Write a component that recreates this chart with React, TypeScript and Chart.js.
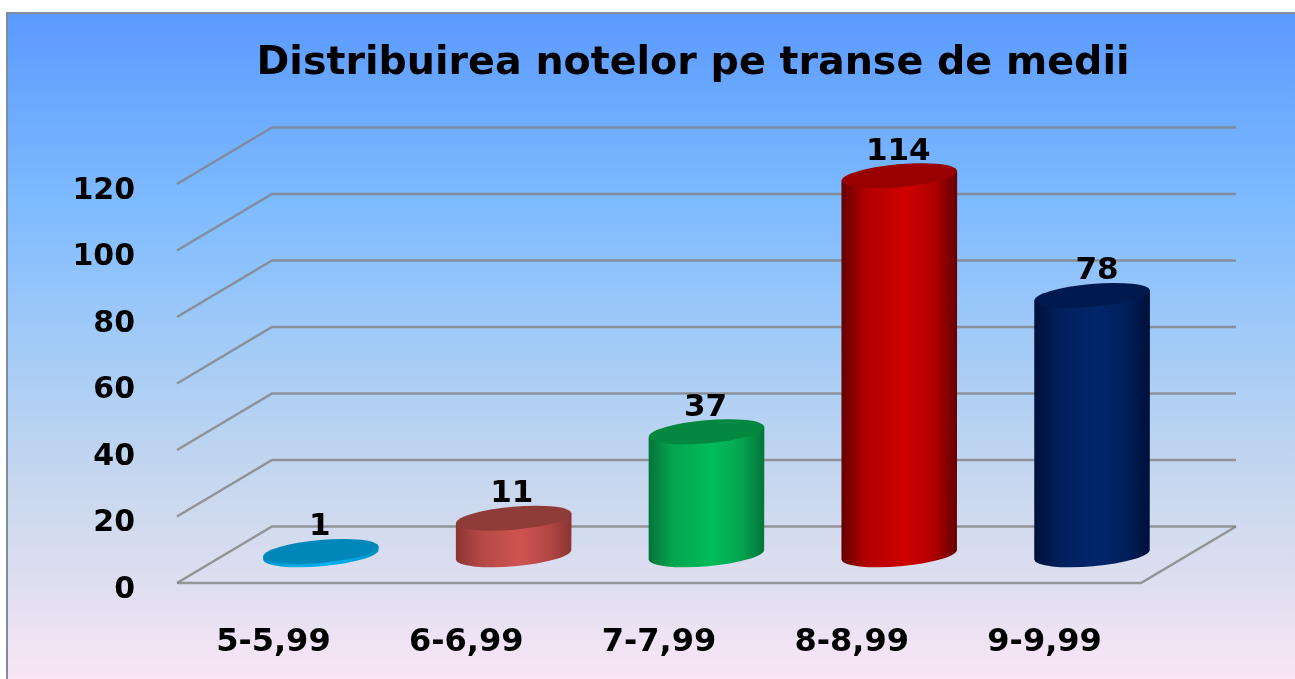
import React, { useEffect, useRef } from "react";
import { Chart, registerables } from "chart.js";

Chart.register(...registerables);

const TITLE = "Distribuirea notelor pe transe de medii";
const categories = ["5-5,99", "6-6,99", "7-7,99", "8-8,99", "9-9,99"];
const values = [1, 11, 37, 114, 78];
const yTicks = [0, 20, 40, 60, 80, 100, 120];

const sideLight = ["#00b4f0", "#cf5451", "#00bd5a", "#cf0000", "#02266b"];
const sideMid = ["#00a5dd", "#b24744", "#04a44f", "#b00000", "#001f5a"];
const sideEdge = ["#0090c4", "#8a3532", "#04743a", "#650000", "#001038"];
const capColors = ["#0188ba", "#8f3b38", "#04873f", "#990000", "#00194f"];
const labelShift = [-1, -2, -1, -1, 5];

const DEPTH_X = 95;
const DEPTH_Y = 56.5;
const TILT = (-5 * Math.PI) / 180;
const CAP_RY = 11.5;

const FONT = "'DejaVu Sans', sans-serif";

const panelPlugin = {
  id: "panel",
  beforeDraw(chart: any) {
    const { ctx, width, height } = chart;
    ctx.save();
    ctx.fillStyle = "#ffffff";
    ctx.fillRect(0, 0, width, height);
    const g = ctx.createLinearGradient(0, 12, 0, height);
    g.addColorStop(0, "#5a9aff");
    g.addColorStop(0.3, "#80bcff");
    g.addColorStop(0.5, "#a3cbf7");
    g.addColorStop(0.72, "#c9d8ee");
    g.addColorStop(0.87, "#e1dff0");
    g.addColorStop(1, "#f9e6f7");
    ctx.fillStyle = g;
    ctx.fillRect(6, 12, width - 6, height - 12);
    ctx.strokeStyle = "#808b9b";
    ctx.lineWidth = 2;
    ctx.beginPath();
    ctx.moveTo(7, height);
    ctx.lineTo(7, 13);
    ctx.lineTo(width, 13);
    ctx.stroke();
    ctx.restore();
  },
};

const wallsPlugin = {
  id: "walls",
  beforeDatasetsDraw(chart: any) {
    const { ctx, chartArea, scales } = chart;
    const { left, right } = chartArea;
    ctx.save();
    ctx.lineWidth = 2.5;
    ctx.strokeStyle = "rgba(130,130,130,0.8)";
    yTicks.forEach((t) => {
      const y = scales.y.getPixelForValue(t);
      ctx.beginPath();
      ctx.moveTo(left, y);
      ctx.lineTo(left + DEPTH_X, y - DEPTH_Y);
      ctx.lineTo(right + DEPTH_X, y - DEPTH_Y);
      ctx.stroke();
    });
    const y0 = scales.y.getPixelForValue(0);
    ctx.beginPath();
    ctx.moveTo(left, y0);
    ctx.lineTo(right, y0);
    ctx.lineTo(right + DEPTH_X, y0 - DEPTH_Y);
    ctx.stroke();
    ctx.restore();
  },
};

const cylinderPlugin = {
  id: "cylinders",
  beforeDatasetDraw(chart: any, args: any) {
    const { ctx } = chart;
    const meta = args.meta;
    ctx.save();
    meta.data.forEach((el: any, i: number) => {
      const cx = el.x + DEPTH_X / 2;
      const top = el.y - DEPTH_Y / 2;
      const base = el.base - DEPTH_Y / 2;
      const rx = el.width / 2;
      const dy = rx * Math.sin(TILT);
      const g = ctx.createLinearGradient(cx - rx, 0, cx + rx, 0);
      g.addColorStop(0, sideEdge[i]);
      g.addColorStop(0.2, sideMid[i]);
      g.addColorStop(0.55, el.options.backgroundColor);
      g.addColorStop(0.8, sideMid[i]);
      g.addColorStop(1, sideEdge[i]);
      ctx.fillStyle = g;
      ctx.beginPath();
      ctx.moveTo(cx - rx, top - dy);
      ctx.lineTo(cx - rx, base - dy);
      ctx.ellipse(cx, base, rx, CAP_RY, TILT, Math.PI, 0, true);
      ctx.lineTo(cx + rx, top + dy);
      ctx.closePath();
      ctx.fill();
      ctx.fillStyle = capColors[i];
      ctx.beginPath();
      ctx.ellipse(cx, top, rx, CAP_RY, TILT, 0, Math.PI * 2);
      ctx.fill();
      ctx.fillStyle = "#000000";
      ctx.font = `bold 31px ${FONT}`;
      ctx.textAlign = "center";
      ctx.textBaseline = "middle";
      ctx.fillText(String(values[i]), cx + labelShift[i], top - 24);
    });
    ctx.restore();
    return false;
  },
};

const titlePlugin = {
  id: "titlePlacement",
  afterLayout(chart: any) {
    const t = chart.titleBlock;
    if (t) {
      t.left = 91;
      t.right = 1295;
    }
  },
};

export default function App() {
  const ref = useRef<HTMLCanvasElement>(null);
  useEffect(() => {
    const chart = new Chart(ref.current as HTMLCanvasElement, {
      type: "bar",
      data: {
        labels: categories,
        datasets: [
          {
            data: values,
            backgroundColor: sideLight,
            barPercentage: 0.6,
            categoryPercentage: 1,
          },
        ],
      },
      options: {
        responsive: false,
        animation: false,
        layout: { padding: { top: 0, right: 154, bottom: 0, left: 0 } },
        plugins: {
          legend: { display: false },
          tooltip: { enabled: false },
          title: {
            display: true,
            text: TITLE,
            color: "#000000",
            font: { family: FONT, size: 39.6, weight: "bold" },
            padding: { top: 40, bottom: 96.5 },
          },
        },
        scales: {
          x: {
            grid: { display: false },
            border: { display: false },
            ticks: {
              color: "#000000",
              font: { family: FONT, size: 32, weight: "bold" },
              padding: 32,
              maxRotation: 0,
              autoSkip: false,
            },
            afterFit(scale: any) {
              scale.height = 96;
            },
          },
          y: {
            min: 0,
            max: 120,
            grid: { display: false, drawTicks: false },
            border: { display: false },
            ticks: {
              stepSize: 20,
              color: "#000000",
              font: { family: FONT, size: 30, weight: "bold" },
              padding: 42,
              labelOffset: 7,
            },
            afterFit(scale: any) {
              scale.width = 177;
            },
          },
        },
      },
      plugins: [panelPlugin, wallsPlugin, cylinderPlugin, titlePlugin],
    } as any);
    return () => chart.destroy();
  }, []);
  return (
    <div style={{ position: "fixed", left: 0, top: 0, width: 1295, height: 679 }}>
      <canvas ref={ref} width={1295} height={679} style={{ display: "block" }} />
    </div>
  );
}
